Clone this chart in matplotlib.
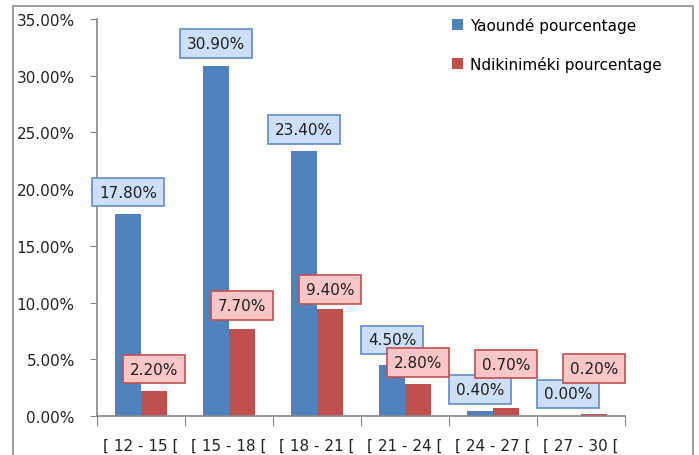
import matplotlib
matplotlib.use("Agg")
import matplotlib.pyplot as plt
from matplotlib.patches import Rectangle
import numpy as np

categories = ["[ 12 - 15 [", "[ 15 - 18 [", "[ 18 - 21 [", "[ 21 - 24 [", "[ 24 - 27 [", "[ 27 - 30 ["]
yaounde = [17.8, 30.9, 23.4, 4.5, 0.4, 0.0]
ndikinimeki = [2.2, 7.7, 9.4, 2.8, 0.7, 0.2]
series_names = ["Yaoundé pourcentage", "Ndikiniméki pourcentage"]
yticks = [0, 5, 10, 15, 20, 25, 30, 35]

# label vertical offsets (px above bar top, box centre)
off_y = [22, 22, 21, 25, 22, 22]
off_n = [22, 23, 20, 22, 44, 45]

plt.rcParams['font.family'] = ['DejaVu Sans']
fig = plt.figure(figsize=(6.99, 4.56), dpi=100)
fig.patches.append(Rectangle((13/699, -0.1), (693-13)/699, 1.1 - 7/456 + 0.0,
                             transform=fig.transFigure, fill=False,
                             edgecolor='#8c8c8c', linewidth=1.2, zorder=0))
ax = fig.add_axes([97/699, 1-417/456, (625-97)/699, (417-20)/456])

blue = '#4F81BD'
red = '#C0504D'
x = np.arange(len(categories))
w = 0.29
ax.bar(x - w/2, yaounde, w, color=blue, label=series_names[0], zorder=2)
ax.bar(x + w/2, ndikinimeki, w, color=red, label=series_names[1], zorder=2)

for i, v in enumerate(yaounde):
    ax.annotate(f"{v:.2f}%", (x[i] - w/2, v), xytext=(0, off_y[i]*0.72),
                textcoords='offset points', ha='center', va='center', fontsize=11,
                color='#1f1f1f', zorder=5,
                bbox=dict(boxstyle='square,pad=0.45', fc='#cddff6', ec='#5f8bc4', lw=1.2))
for i, v in enumerate(ndikinimeki):
    ax.annotate(f"{v:.2f}%", (x[i] + w/2, v), xytext=(0, off_n[i]*0.72),
                textcoords='offset points', ha='center', va='center', fontsize=11,
                color='#1f1f1f', zorder=6,
                bbox=dict(boxstyle='square,pad=0.45', fc='#f8c6c6', ec='#c0504d', lw=1.2))

ax.set_xlim(-0.5, len(categories) - 0.5)
ax.set_ylim(0, 35)
ax.set_yticks(yticks)
ax.set_yticklabels([f"{t:.2f}%" for t in yticks], fontsize=11, color='#222222')
ax.tick_params(axis='y', length=5, color='#868686', pad=11)

ax.set_xticks(np.arange(len(categories) + 1) - 0.5)
ax.set_xticklabels([])
ax.tick_params(axis='x', which='major', length=7, color='#868686')
ax.set_xticks(x, minor=True)
ax.set_xticklabels(categories, minor=True, fontsize=11, color='#222222')
ax.tick_params(axis='x', which='minor', length=0, pad=16)

for s in ['top', 'right']:
    ax.spines[s].set_visible(False)
for s in ['left', 'bottom']:
    ax.spines[s].set_color('#868686')
    ax.spines[s].set_linewidth(1.2)

ax.legend(loc='upper left', bbox_to_anchor=((452-97)/528, 1.0 + 2/397), frameon=False, fontsize=11,
          handlelength=0.72, handleheight=0.72, handletextpad=0.45, labelspacing=1.5,
          borderaxespad=0, borderpad=0)

fig.savefig("out.png", dpi=100)
